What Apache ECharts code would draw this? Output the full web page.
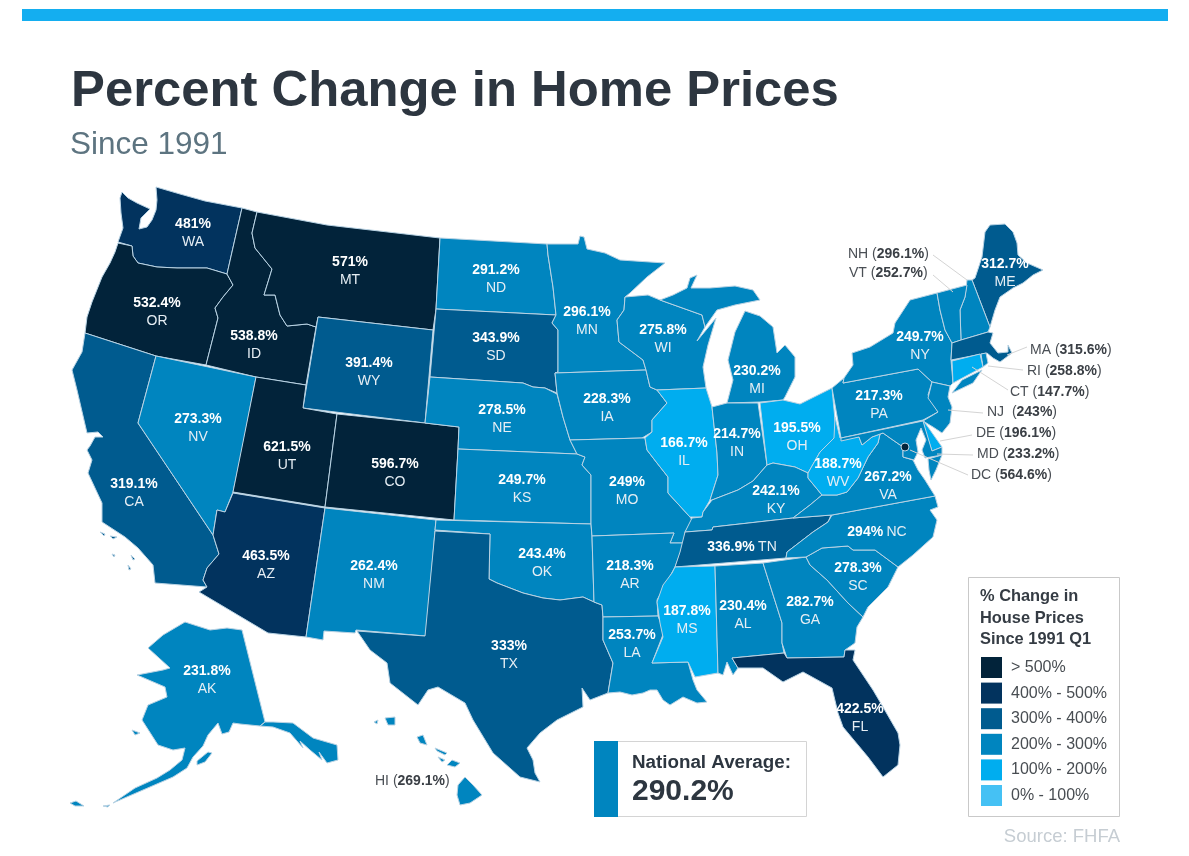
<!DOCTYPE html>
<html>
<head>
<meta charset="utf-8">
<title>Percent Change in Home Prices</title>
<script src="https://cdn.jsdelivr.net/npm/echarts@6/dist/echarts.min.js"></script>
<style>
  html, body { margin: 0; padding: 0; background: #fff; }
  #chart { width: 1189px; height: 856px; }
</style>
</head>
<body>
<div id="chart"></div>
<script>
// values
const states = ["WA","OR","ID","MT","WY","CA","NV","UT","CO","AZ","NM","ND","SD","NE","KS","OK","TX","MN","IA","MO","AR","LA","WI","IL","MI","IN","OH","KY","TN","MS","AL","GA","FL","SC","NC","VA","WV","PA","NY","ME","AK","NH","VT","MA","RI","CT","NJ","DE","MD","DC","HI"];
const changes = [481,532.4,538.8,571,391.4,319.1,273.3,621.5,596.7,463.5,262.4,291.2,343.9,278.5,249.7,243.4,333,296.1,228.3,249,218.3,253.7,275.8,166.7,230.2,214.7,195.5,242.1,336.9,187.8,230.4,282.7,422.5,278.3,294,267.2,188.7,217.3,249.7,312.7,231.8,296.1,252.7,315.6,258.8,147.7,243,196.1,233.2,564.6,269.1];

const legendTexts = ["> 500%","400% - 500%","300% - 400%","200% - 300%","100% - 200%","0% - 100%"];
const legendMins = [500,400,300,200,100,0];
const legendMaxs = [Infinity,500,400,300,200,100];
const legendColors = ["#02233a","#02335e","#005b8f","#0085bf","#00adef","#45c1f4"];
const nationalAverage = 290.2;

// these have their value outside the map, with a line to the state
const calloutStates = ["NH","VT","MA","RI","CT","NJ","DE","MD","DC","HI"];
const calloutAnchors = [[848,254],[849,273],[1030,350],[1027,371],[1010,392],[987,412],[976,433],[977,454],[971,475],[375,781]];
const calloutLines = [[933,255,967,280],[933,275,953,292],[1027,347,1007,355],[1023,370,988,366],[1008,390,972,367],[983,413,948,410],[972,435,940,441],[973,455,937,454],[968,475,910,450],null];
const oneLineStates = ["TN","NC"];

// where each state's label sits
const labelAt = {WA:[193,232],OR:[157,311],ID:[254,344],MT:[350,270],WY:[369,371],CA:[134,492],NV:[198,427],UT:[287,455],CO:[395,472],AZ:[266,564],NM:[374,574],ND:[496,278],SD:[496,346],NE:[502,418],KS:[522,488],OK:[542,562],TX:[509,654],MN:[587,320],IA:[607,407],MO:[627,490],AR:[630,574],LA:[632,643],WI:[663,338],IL:[684,451],MI:[757,379],IN:[737,442],OH:[797,436],KY:[776,499],TN:[742,546],MS:[687,619],AL:[743,614],GA:[810,610],FL:[860,717],SC:[858,576],NC:[877,531],VA:[888,485],WV:[838,472],PA:[879,404],NY:[920,345],ME:[1005,272],AK:[207,679]};

// state outlines, in page pixels
const shapes = {
  WA: [[[122,192],[128,198],[137,203],[150,209],[141,218],[139,229],[147,227],[152,220],[156,210],[157,200],[156,187],[180,194],[205,201],[242,208],[227,274],[207,268],[177,268],[157,267],[138,263],[133,256],[132,246],[118,242],[123,228],[121,213],[120,198]]],
  OR: [[[118,243],[132,246],[133,256],[138,263],[157,267],[177,268],[207,268],[227,274],[233,285],[223,297],[215,308],[218,318],[206,365],[156,356],[85,333],[87,317],[92,302],[102,277],[110,263],[115,252]]],
  ID: [[[242,208],[257,212],[252,233],[255,248],[272,269],[264,295],[275,295],[280,315],[287,326],[307,324],[316,327],[306,385],[256,377],[206,365],[218,318],[215,308],[223,297],[233,285],[227,274]]],
  MT: [[[257,212],[327,225],[440,238],[436,309],[433,330],[318,317],[316,327],[307,324],[287,326],[280,315],[275,295],[264,295],[272,269],[255,248],[252,233]]],
  WY: [[[318,317],[433,330],[425,423],[303,408]]],
  CA: [[[85,333],[156,356],[138,423],[213,535],[219,554],[207,568],[203,580],[207,587],[155,583],[153,565],[138,548],[125,537],[102,522],[102,503],[88,473],[92,460],[87,450],[90,446],[95,437],[103,437],[98,432],[87,433],[77,390],[72,370],[82,352]],
       [[100,532],[105,534],[104,536]],[[110,536],[117,537],[113,539]],[[112,554],[115,555],[114,557]],[[131,555],[135,559],[133,560]],[[128,565],[131,569],[129,570]]],
  NV: [[[156,356],[256,377],[242,450],[233,492],[225,512],[217,510],[213,535],[138,423]]],
  UT: [[[256,377],[306,385],[303,408],[337,414],[325,507],[233,492]]],
  CO: [[[337,414],[425,423],[459,427],[458,449],[454,520],[325,507]]],
  AZ: [[[233,493],[325,508],[306,637],[268,633],[199,592],[207,587],[203,580],[207,568],[219,554],[213,535],[217,510],[225,512]]],
  NM: [[[325,508],[436,520],[435,531],[426,636],[356,630],[355,633],[324,631],[323,640],[306,637]]],
  ND: [[[440,238],[547,244],[548,255],[553,287],[556,315],[436,309]]],
  SD: [[[436,309],[556,315],[552,323],[558,330],[558,372],[555,373],[557,393],[545,388],[533,387],[523,383],[430,377]]],
  NE: [[[430,377],[523,383],[533,387],[545,388],[557,394],[563,417],[570,440],[577,454],[458,449],[459,427],[425,423]]],
  KS: [[[458,449],[577,454],[585,457],[582,465],[591,475],[591,524],[454,520]]],
  OK: [[[436,520],[591,524],[592,536],[594,602],[583,597],[560,600],[543,598],[523,593],[497,583],[489,579],[490,534],[435,530]]],
  TX: [[[435,531],[490,534],[489,579],[497,583],[523,593],[543,598],[560,600],[583,597],[594,602],[602,605],[603,617],[603,640],[613,663],[608,693],[590,700],[582,688],[583,707],[557,720],[540,733],[527,748],[533,760],[535,773],[540,782],[520,777],[493,753],[473,720],[465,703],[438,687],[428,690],[418,705],[390,683],[387,663],[370,650],[357,631],[425,636]]],
  MN: [[[547,244],[578,244],[580,236],[584,237],[587,249],[605,253],[620,260],[665,263],[647,277],[630,293],[625,297],[624,310],[617,320],[619,342],[643,360],[646,370],[555,373],[558,372],[558,330],[552,323],[556,315],[553,287],[548,255]]],
  IA: [[[555,373],[646,370],[650,387],[657,390],[667,403],[652,420],[652,432],[642,438],[570,440],[563,417],[557,393]]],
  MO: [[[570,440],[642,438],[645,438],[647,450],[657,463],[668,477],[668,493],[690,517],[692,520],[685,532],[684,543],[670,543],[674,533],[592,536],[591,524],[591,475],[582,465],[585,457],[577,454]]],
  AR: [[[592,536],[674,533],[670,543],[684,543],[675,567],[657,600],[658,616],[603,617],[602,605],[594,602]]],
  LA: [[[603,617],[658,616],[664,632],[652,663],[688,662],[693,680],[697,690],[707,702],[697,703],[683,697],[670,705],[663,700],[657,690],[650,690],[643,693],[632,695],[620,692],[608,693],[613,663],[603,640]]],
  WI: [[[625,297],[648,295],[660,300],[702,315],[705,327],[697,341],[716,318],[708,345],[703,367],[706,388],[657,390],[650,387],[646,370],[643,360],[619,342],[617,320],[624,310]]],
  IL: [[[657,390],[706,388],[712,407],[717,453],[718,475],[710,500],[703,512],[702,517],[690,517],[668,493],[668,477],[657,463],[647,450],[645,438],[652,432],[652,420],[667,403]]],
  MI: [[[660,300],[673,295],[687,288],[690,278],[697,275],[691,288],[710,288],[735,286],[753,290],[760,300],[735,305],[717,310],[705,327],[702,315]],
       [[745,311],[760,316],[773,327],[777,353],[785,345],[795,357],[795,377],[785,397],[783,400],[760,402],[727,403],[733,380],[728,360],[735,332]]],
  IN: [[[712,407],[727,403],[758,403],[767,465],[753,481],[738,490],[725,495],[712,500],[710,500],[718,475],[717,453]]],
  OH: [[[760,403],[783,400],[800,404],[832,388],[835,420],[838,437],[820,452],[808,473],[795,467],[773,463],[767,465]]],
  KY: [[[692,518],[702,517],[703,512],[712,500],[725,495],[738,490],[753,481],[767,465],[773,463],[795,467],[808,473],[808,478],[822,495],[810,505],[793,518],[713,527],[712,530],[685,532]]],
  TN: [[[685,532],[712,530],[713,527],[793,518],[831,515],[828,522],[813,532],[787,552],[786,558],[675,567],[680,552]]],
  MS: [[[675,567],[715,566],[718,673],[695,677],[688,662],[652,663],[663,637],[660,623],[657,602],[663,585],[672,573]]],
  AL: [[[715,566],[763,563],[782,623],[782,643],[784,653],[732,658],[738,668],[733,675],[727,662],[723,675],[718,673]]],
  GA: [[[763,563],[806,557],[810,565],[827,580],[848,603],[863,617],[857,627],[855,643],[845,650],[844,657],[787,658],[782,643],[782,623]]],
  FL: [[[732,658],[784,653],[787,658],[844,657],[845,650],[855,650],[853,660],[873,690],[883,707],[898,733],[900,745],[898,765],[883,777],[868,757],[843,727],[838,713],[832,688],[803,672],[783,682],[763,668],[738,668]]],
  SC: [[[806,557],[822,548],[848,546],[853,550],[875,550],[898,567],[888,587],[868,607],[863,617],[848,603],[827,580],[810,565]]],
  NC: [[[832,515],[935,496],[938,507],[930,510],[937,520],[933,537],[913,555],[898,567],[875,550],[853,550],[848,546],[822,548],[806,557],[786,558],[787,552],[813,532],[828,522]]],
  VA: [[[793,518],[810,505],[822,495],[837,495],[847,492],[858,478],[868,457],[878,443],[880,434],[883,433],[890,438],[903,447],[903,457],[913,460],[918,470],[925,480],[935,496],[832,515]],
       [[928,459],[942,455],[936,470],[931,480],[929,470]]],
  WV: [[[835,417],[840,438],[859,437],[862,445],[872,437],[880,434],[878,443],[868,457],[858,478],[847,492],[837,495],[822,495],[808,478],[808,473],[820,452],[834,438]]],
  PA: [[[832,388],[844,378],[843,383],[918,369],[932,382],[928,395],[938,412],[923,420],[841,438]]],
  NY: [[[843,383],[844,378],[853,365],[852,353],[870,347],[893,333],[895,323],[910,300],[937,293],[940,310],[945,330],[952,343],[951,360],[953,383],[950,386],[932,382],[918,369]],
       [[952,393],[962,380],[982,370],[973,383]]],
  VT: [[[937,293],[967,285],[965,297],[960,310],[961,340],[952,343],[945,330],[940,310]]],
  NH: [[[967,280],[972,280],[990,327],[988,332],[961,340],[960,310],[965,297]]],
  ME: [[[985,232],[990,225],[1005,224],[1013,232],[1017,243],[1018,255],[1027,263],[1043,270],[1033,275],[1023,283],[1013,288],[1000,297],[995,310],[990,327],[972,280],[975,278],[982,257]]],
  MA: [[[952,343],[961,340],[988,332],[993,333],[990,343],[998,353],[1008,352],[1008,345],[1012,353],[1000,362],[993,358],[987,353],[951,360]]],
  CT: [[[952,361],[980,354],[983,367],[953,383]]],
  RI: [[[981,354],[986,353],[988,363],[983,367]]],
  NJ: [[[932,382],[950,386],[948,397],[952,407],[950,423],[942,433],[933,427],[923,421],[938,412],[928,398]]],
  DE: [[[923,420],[928,427],[942,447],[932,451],[925,430]]],
  MD: [[[841,438],[923,421],[932,451],[942,447],[942,455],[925,458],[922,450],[926,440],[921,428],[916,440],[918,452],[914,460],[903,457],[903,447],[890,438],[883,433],[872,437],[862,445],[859,437],[841,441]]],
  DC: [[[902,444],[905,443],[908,444],[909,447],[908,450],[905,451],[902,450],[901,447]]],
  AK: [[[242,630],[265,722],[260,726],[240,724],[233,723],[229,732],[222,734],[218,723],[208,735],[203,746],[193,757],[187,768],[173,777],[143,790],[113,803],[135,788],[157,778],[170,770],[182,760],[185,748],[173,750],[158,745],[142,720],[148,705],[167,697],[165,687],[137,675],[163,670],[170,668],[148,648],[163,635],[185,622],[210,630],[227,628]],
       [[265,722],[273,722],[293,723],[313,738],[337,745],[338,760],[327,763],[319,752],[322,760],[310,750],[300,741],[303,748],[290,733],[273,727],[260,726]],
       [[208,752],[212,753],[205,762],[197,765],[197,761]],
       [[132,730],[140,733],[135,735]],[[70,803],[76,801],[84,806],[75,806]],[[103,806],[110,805],[108,807]]],
  HI: [[[385,718],[395,717],[395,725],[388,725]],[[374,722],[378,720],[377,724]],[[417,737],[423,735],[427,745],[420,743]],[[435,748],[447,753],[445,755],[437,751]],[[438,757],[445,760],[442,762]],[[447,765],[452,760],[460,763],[455,767]],[[465,777],[473,785],[482,795],[470,803],[460,805],[457,795],[458,785]]]
};

const usa = {
  type: "FeatureCollection",
  features: states.map(function (s) {
    return {
      type: "Feature",
      properties: { name: s, cp: labelAt[s] },
      geometry: {
        type: "MultiPolygon",
        coordinates: shapes[s].map(function (r) {
          return [r.concat([r[0]])];
        })
      }
    };
  })
};
echarts.registerMap("usa", usa);

const chart = echarts.init(document.getElementById("chart"));

const mapData = states.map(function (s, i) {
  const item = { name: s, value: changes[i] };
  if (calloutStates.indexOf(s) >= 0) {
    item.label = { show: false };
  }
  return item;
});

const calloutRich = {
  a: { fontFamily: "Liberation Sans", fontSize: 14, fill: "#4a4f55" },
  b: { fontFamily: "Liberation Sans", fontSize: 14, fontWeight: "bold", fill: "#3a3f45" }
};

const calloutGraphics = [];
calloutStates.forEach(function (s, i) {
  const value = changes[states.indexOf(s)];
  const gap = s === "NJ" ? "  " : " ";
  const line = calloutLines[i];
  if (line) {
    calloutGraphics.push({
      type: "line",
      silent: true,
      z: 5,
      shape: { x1: line[0], y1: line[1], x2: line[2], y2: line[3] },
      style: { stroke: "#d4d4d4", lineWidth: 1 }
    });
  }
  calloutGraphics.push({
    type: "text",
    silent: true,
    z: 6,
    x: calloutAnchors[i][0],
    y: calloutAnchors[i][1],
    style: {
      text: "{a|" + s + gap + "(}{b|" + value + "%}{a|)}",
      rich: calloutRich,
      verticalAlign: "middle"
    }
  });
});

const option = {
  backgroundColor: "#fff",
  animation: false,
  title: [
    {
      text: "Percent Change in Home Prices",
      left: 71,
      top: 66,
      padding: 0,
      textStyle: { fontFamily: "Liberation Sans", fontSize: 50.8, fontWeight: "bold", color: "#2d3640" }
    },
    {
      text: "Since 1991",
      left: 70,
      top: 129,
      padding: 0,
      textStyle: { fontFamily: "Liberation Sans", fontSize: 31.5, fontWeight: "normal", color: "#5d7480" }
    }
  ],
  visualMap: {
    type: "piecewise",
    left: 981,
    top: 657,
    padding: 0,
    orient: "vertical",
    align: "left",
    itemWidth: 21,
    itemHeight: 21,
    itemGap: 4.6,
    itemSymbol: "rect",
    textGap: 9,
    selectedMode: false,
    hoverLink: false,
    showLabel: true,
    seriesIndex: 0,
    textStyle: { fontFamily: "Liberation Sans", fontSize: 16, color: "#484d52" },
    pieces: legendTexts.map(function (t, i) {
      const piece = { min: legendMins[i], label: t, color: legendColors[i] };
      if (isFinite(legendMaxs[i])) {
        piece.max = legendMaxs[i];
      }
      return piece;
    })
  },
  series: [
    {
      type: "map",
      map: "usa",
      silent: true,
      projection: {
        project: function (p) { return p; },
        unproject: function (p) { return p; }
      },
      boundingCoords: [[0, 0], [1189, 856]],
      left: 0,
      top: 0,
      right: 0,
      bottom: 0,
      itemStyle: { borderColor: "#b9d3e4", borderWidth: 1 },
      label: {
        show: true,
        offset: [0, 1],
        formatter: function (p) {
          if (oneLineStates.indexOf(p.name) >= 0) {
            return "{v|" + p.value + "%} {s|" + p.name + "}";
          }
          return "{v|" + p.value + "%}\n{s|" + p.name + "}";
        },
        rich: {
          v: { fontFamily: "Liberation Sans", fontSize: 14, fontWeight: "bold", color: "#fff", lineHeight: 18, align: "center" },
          s: { fontFamily: "Liberation Sans", fontSize: 14, color: "#e6eef4", lineHeight: 18, align: "center" }
        }
      },
      emphasis: { disabled: true },
      data: mapData
    }
  ],
  graphic: {
    elements: [
      { type: "rect", silent: true, shape: { x: 22, y: 9, width: 1146, height: 12 }, style: { fill: "#14aef0" } },
      { type: "rect", silent: true, z: -1, shape: { x: 968.5, y: 577.5, width: 151, height: 239 }, style: { fill: "#fff", stroke: "#c9c9c9", lineWidth: 1 } },
      {
        type: "text", silent: true, x: 980, y: 586,
        style: {
          text: "% Change in\nHouse Prices\nSince 1991 Q1",
          fontFamily: "Liberation Sans", fontSize: 16.4, fontWeight: "bold", fill: "#353c44", lineHeight: 21.5
        }
      },
      { type: "rect", silent: true, shape: { x: 594.5, y: 741.5, width: 212, height: 75 }, style: { fill: "#fff", stroke: "#d4d4d4", lineWidth: 1 } },
      { type: "rect", silent: true, shape: { x: 594, y: 741, width: 24, height: 76 }, style: { fill: legendColors[3] } },
      {
        type: "text", silent: true, x: 632, y: 763,
        style: { text: "National Average:", fontFamily: "Liberation Sans", fontSize: 18.8, fontWeight: "bold", fill: "#2d3640", verticalAlign: "middle" }
      },
      {
        type: "text", silent: true, x: 632, y: 792,
        style: { text: nationalAverage + "%", fontFamily: "Liberation Sans", fontSize: 30, fontWeight: "bold", fill: "#2d3640", verticalAlign: "middle" }
      },
      {
        type: "text", silent: true, x: 1120, y: 837,
        style: { text: "Source: FHFA", fontFamily: "Liberation Sans", fontSize: 18.5, fill: "#c6cdd3", align: "right", verticalAlign: "middle" }
      }
    ].concat(calloutGraphics)
  }
};

chart.setOption(option);
</script>
</body>
</html>
